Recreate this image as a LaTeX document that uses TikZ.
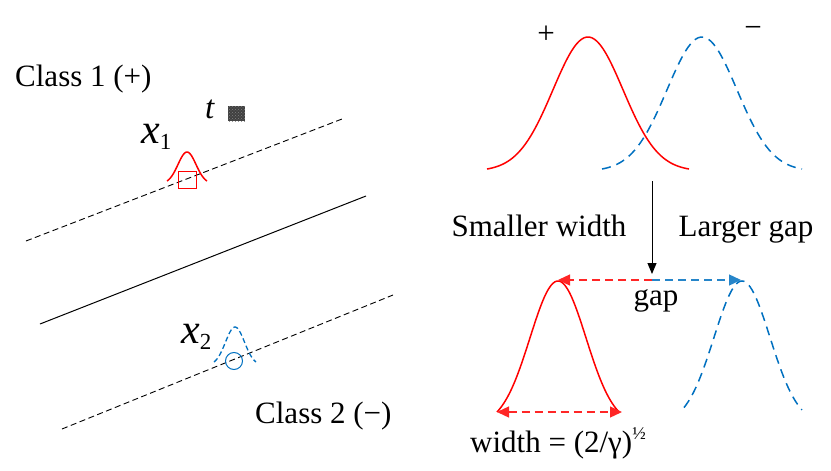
\documentclass[tikz,border=0pt]{standalone}
\usepackage{fontspec}
\setmainfont{Liberation Serif}
\usetikzlibrary{arrows.meta,patterns}
\definecolor{myblue}{RGB}{0,112,192}
\begin{document}
\begin{tikzpicture}[x=1pt,y=-1pt,
  lbl/.style={inner sep=0pt, font=\fontsize{31}{36}\selectfont},
  sepline/.style={black, line width=0.9pt, dash pattern=on 6pt off 3.5pt},
  redcurve/.style={red, line width=1.5pt},
  bluecurve/.style={myblue, line width=1.5pt, dash pattern=on 9pt off 6pt},
  tip/.style={-{Triangle[length=12pt,width=11pt]}},
  gaparrow/.style={line width=1.3pt, dash pattern=on 8pt off 5pt}]
\useasboundingbox (0,0) rectangle (831,471);

% ---------- left part ----------
\coordinate (d1a) at (26,241);  \coordinate (d1b) at (342,119);
\coordinate (sa) at (40,324);   \coordinate (sb) at (366,196);
\coordinate (d2a) at (62,429);  \coordinate (d2b) at (393,295);
\draw[sepline] (d1a) -- (d1b);
\draw[black, line width=1pt] (sa) -- (sb);
\draw[sepline] (d2a) -- (d2b);

\node[lbl, anchor=base west] (c1) at (15,86) {Class 1 (+)};
\node[lbl, anchor=base west] (c2) at (255,423) {Class 2 (−)};

\node[inner sep=0pt, anchor=base west] (t) at (205,118) {\fontsize{33}{36}\selectfont\itshape t};
\fill[black!75] (228,106) rectangle (245,121);
\fill[pattern=crosshatch dots, pattern color=gray] (228,106) rectangle (245,121);
\node[inner sep=0pt] (tsq) at (236.5,113.5) {};

\node[inner sep=0pt, anchor=base west] (x1) at (141,143) {\fontsize{42}{44}\selectfont\itshape x\fontsize{23}{24}\selectfont\upshape\raisebox{-6pt}{1}};
\node[inner sep=0pt, anchor=base west] (x2) at (181,343) {\fontsize{42}{44}\selectfont\itshape x\fontsize{23}{24}\selectfont\upshape\raisebox{-6pt}{2}};

\draw[redcurve] plot[domain=-20:20, samples=40, smooth] ({187+\x},{181-29*(exp(-(\x*\x)/(2*9*9))-0.085)/0.915});
\node[draw=red, line width=1pt, minimum width=18pt, minimum height=17pt, inner sep=0pt] (sq) at (187,179.5) {};
\draw[myblue, line width=1.3pt, dash pattern=on 5pt off 3pt] plot[domain=-21:21, samples=40, smooth] ({235+\x},{362-35*(exp(-(\x*\x)/(2*9.5*9.5))-0.087)/0.913});
\node[draw=myblue, circle, line width=1pt, minimum size=17pt, inner sep=0pt] (ci) at (234,361) {};

% ---------- right top ----------
\draw[redcurve] plot[domain=-101:101, samples=80, smooth] ({588+\x},{169-132*(exp(-(\x*\x)/(2*35*35))-0.0156)/0.9844});
\draw[bluecurve] plot[domain=-100:100, samples=80, smooth] ({702+\x},{169-132*(exp(-(\x*\x)/(2*35*35))-0.0169)/0.9831});
\node[lbl] (plus) at (546,35) {+};
\node[lbl] (minus) at (753,32) {−};

\coordinate (a1) at (652,181);
\coordinate (a2) at (652,274);
\draw[line width=1pt, -{Triangle[length=11pt,width=9pt]}] (a1) -- (a2);
\node[lbl, anchor=base] (sw) at (539,236) {Smaller width};
\node[lbl, anchor=base] (lg) at (746,236) {Larger gap};

% ---------- right bottom ----------
\draw[redcurve] plot[domain=-61:61, samples=60, smooth] ({558+\x},{412-131*(exp(-(\x*\x)/(2*28*28))-0.093)/0.907});
\draw[bluecurve] plot[domain=-58:60, samples=60, smooth] ({742+\x},{411-130*(exp(-(\x*\x)/(2*28*28))-0.093)/0.907});

\coordinate (peakR) at (558,280);
\coordinate (mid) at (652,280);
\coordinate (peakB) at (741,280);
\draw[red!85, gaparrow, tip] (mid) -- (peakR);
\draw[myblue!85, gaparrow, tip] (mid) -- (peakB);
\node[lbl, anchor=base] (gap) at (656,305) {gap};

\coordinate (wL) at (497,412);
\coordinate (wR) at (622,412);
\draw[red!85, gaparrow, {Triangle[length=12pt,width=11pt]}-{Triangle[length=12pt,width=11pt]}] (wL) -- (wR);
\node[lbl, anchor=base west] (wd) at (470,452) {width = (2/γ)\raisebox{13pt}{\fontsize{18}{18}\selectfont ½}};
\end{tikzpicture}
\end{document}
